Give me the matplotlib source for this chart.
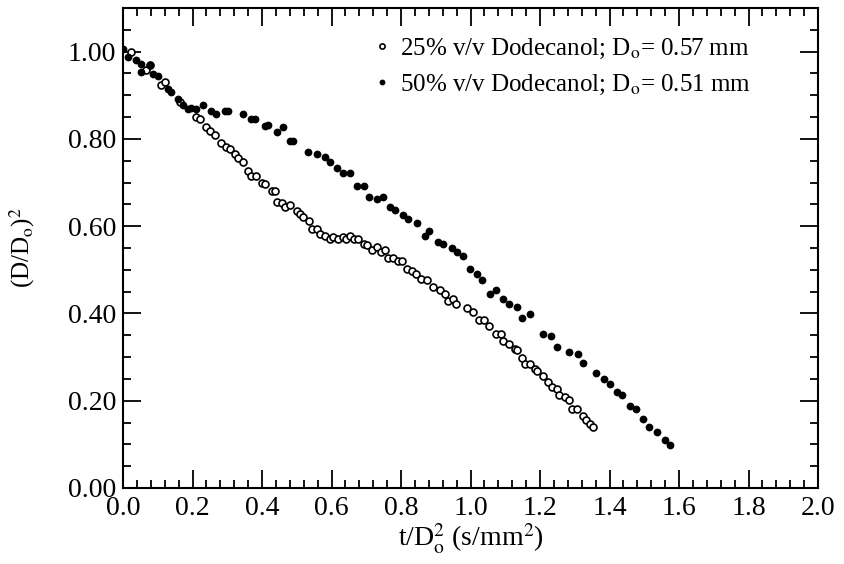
import matplotlib
matplotlib.use("Agg")
import matplotlib.pyplot as plt
from matplotlib.ticker import MultipleLocator, FormatStrFormatter

# 25% v/v Dodecanol, D0 = 0.57 mm (open circles)
t25 = [0.022, 0.067, 0.079, 0.110, 0.120, 0.163, 0.211, 0.221, 0.240, 0.249,
       0.264, 0.283, 0.297, 0.307, 0.321, 0.331, 0.345, 0.360, 0.369, 0.384,
       0.399, 0.409, 0.428, 0.437, 0.442, 0.457, 0.466, 0.481, 0.500, 0.509,
       0.519, 0.534, 0.543, 0.557, 0.567, 0.581, 0.596, 0.604, 0.620, 0.634,
       0.643, 0.653, 0.665, 0.677, 0.692, 0.702, 0.716, 0.731, 0.742, 0.754,
       0.763, 0.778, 0.792, 0.802, 0.816, 0.831, 0.842, 0.858, 0.874, 0.893,
       0.912, 0.927, 0.936, 0.950, 0.958, 0.989, 1.006, 1.025, 1.039, 1.054,
       1.073, 1.087, 1.094, 1.112, 1.128, 1.135, 1.147, 1.157, 1.171, 1.186,
       1.192, 1.209, 1.224, 1.234, 1.248, 1.256, 1.272, 1.284, 1.291, 1.307,
       1.325, 1.332, 1.344, 1.353]
d25 = [0.999, 0.957, 0.969, 0.923, 0.930, 0.884, 0.850, 0.846, 0.827, 0.819,
       0.808, 0.790, 0.781, 0.777, 0.766, 0.756, 0.746, 0.727, 0.716, 0.714,
       0.700, 0.697, 0.681, 0.681, 0.656, 0.654, 0.643, 0.649, 0.635, 0.628,
       0.620, 0.612, 0.594, 0.594, 0.582, 0.578, 0.570, 0.576, 0.571, 0.575,
       0.570, 0.577, 0.570, 0.570, 0.560, 0.556, 0.545, 0.552, 0.541, 0.545,
       0.526, 0.526, 0.521, 0.520, 0.502, 0.497, 0.490, 0.479, 0.476, 0.461,
       0.454, 0.445, 0.428, 0.432, 0.421, 0.413, 0.403, 0.386, 0.385, 0.372,
       0.354, 0.354, 0.336, 0.329, 0.319, 0.316, 0.298, 0.283, 0.283, 0.273,
       0.269, 0.257, 0.244, 0.232, 0.226, 0.214, 0.209, 0.202, 0.181, 0.182,
       0.164, 0.156, 0.147, 0.139]

# 50% v/v Dodecanol, D0 = 0.51 mm (filled circles)
t50 = [0.000, 0.014, 0.038, 0.053, 0.077, 0.053, 0.086, 0.101, 0.129, 0.139,
       0.158, 0.173, 0.187, 0.197, 0.211, 0.230, 0.254, 0.268, 0.293, 0.302,
       0.345, 0.369, 0.379, 0.408, 0.418, 0.442, 0.460, 0.481, 0.490, 0.533,
       0.557, 0.581, 0.596, 0.617, 0.634, 0.653, 0.673, 0.694, 0.709, 0.730,
       0.747, 0.768, 0.783, 0.807, 0.821, 0.845, 0.868, 0.881, 0.907, 0.920,
       0.946, 0.960, 0.979, 0.999, 1.018, 1.032, 1.056, 1.073, 1.094, 1.112,
       1.133, 1.147, 1.171, 1.209, 1.232, 1.248, 1.284, 1.308, 1.324, 1.362,
       1.383, 1.401, 1.422, 1.435, 1.459, 1.475, 1.497, 1.513, 1.536, 1.560,
       1.573]
d50 = [1.005, 0.988, 0.980, 0.972, 0.970, 0.953, 0.949, 0.945, 0.915, 0.907,
       0.892, 0.877, 0.869, 0.871, 0.869, 0.877, 0.865, 0.857, 0.865, 0.865,
       0.857, 0.846, 0.846, 0.829, 0.831, 0.815, 0.827, 0.796, 0.796, 0.771,
       0.766, 0.758, 0.746, 0.734, 0.722, 0.722, 0.691, 0.693, 0.667, 0.662,
       0.668, 0.643, 0.637, 0.625, 0.616, 0.607, 0.578, 0.588, 0.563, 0.559,
       0.551, 0.540, 0.532, 0.501, 0.490, 0.477, 0.445, 0.454, 0.434, 0.421,
       0.414, 0.390, 0.398, 0.353, 0.348, 0.324, 0.311, 0.306, 0.287, 0.264,
       0.250, 0.239, 0.220, 0.214, 0.189, 0.182, 0.159, 0.140, 0.128, 0.110,
       0.098]

plt.rcParams['font.family'] = ['Liberation Serif', 'DejaVu Serif']
plt.rcParams['mathtext.fontset'] = 'stix'

fig = plt.figure(figsize=(8.45, 5.64), dpi=100)
ax = fig.add_axes([0.1456, 0.1348, 0.8225, 0.851])

ax.plot(t25, d25, 'o', ms=5, mfc='white', mec='black', mew=1.2,
        label=r'25% v/v Dodecanol; D$_\mathrm{o}$= 0.57 mm')
ax.plot(t50, d50, 'o', ms=5.6, mfc='black', mec='black', mew=0,
        label=r'50% v/v Dodecanol; D$_\mathrm{o}$= 0.51 mm')

ax.set_xlim(0, 2.0)
ax.set_ylim(0, 1.10)
ax.xaxis.set_major_locator(MultipleLocator(0.2))
ax.xaxis.set_minor_locator(MultipleLocator(0.04))
ax.yaxis.set_major_locator(MultipleLocator(0.2))
ax.yaxis.set_minor_locator(MultipleLocator(0.05))
ax.xaxis.set_major_formatter(FormatStrFormatter('%.1f'))
ax.yaxis.set_major_formatter(FormatStrFormatter('%.2f'))

ax.tick_params(which='both', direction='in', top=True, right=True, width=1.3)
ax.tick_params(which='major', length=13, labelsize=20, pad=5)
ax.tick_params(axis='x', which='major', pad=6)
ax.tick_params(which='minor', length=6)
for s in ax.spines.values():
    s.set_linewidth(1.5)

ax.set_xlabel(r't/D$_\mathrm{o}^2$ (s/mm$^2$)', fontsize=20)
ax.xaxis.set_label_coords(0.5, -0.07)
ax.set_ylabel(r'(D/D$_\mathrm{o}$)$^2$', fontsize=18)
ax.yaxis.set_label_coords(-0.124, 0.5)

ax.legend(loc='upper right', bbox_to_anchor=(0.925, 0.972), frameon=False,
          fontsize=18, handletextpad=0.2, markerscale=0.75,
          borderaxespad=0.2, labelspacing=0.5, handlelength=1.0)

fig.savefig('out.png', dpi=100)
